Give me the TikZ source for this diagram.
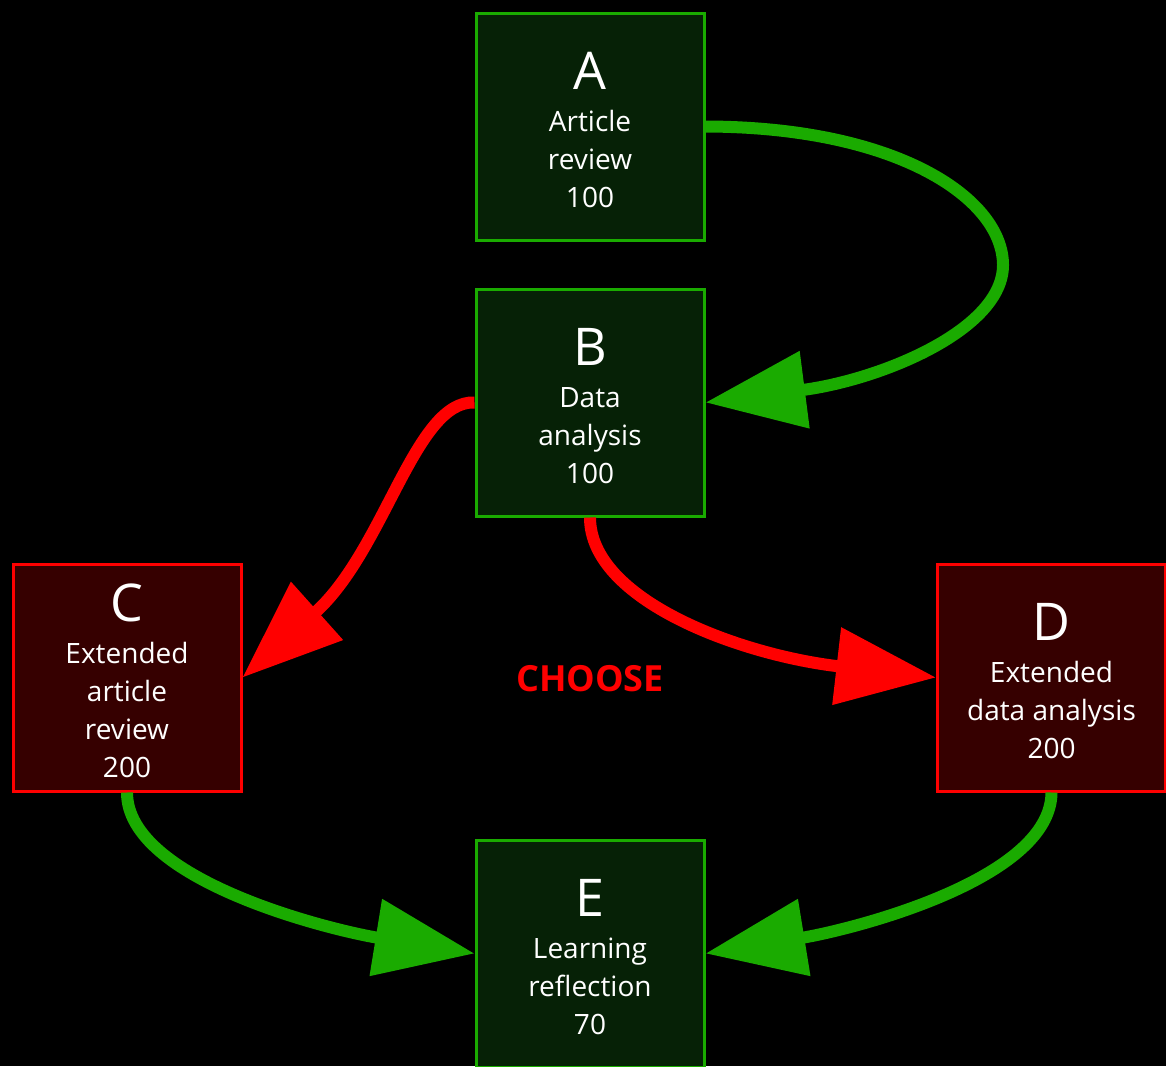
\documentclass[tikz,border=0pt]{standalone}
\usepackage{fontspec}
\setmainfont{Open Sans}
\usetikzlibrary{arrows.meta}
\definecolor{gline}{HTML}{1AAB00}
\definecolor{gfill}{HTML}{062106}
\definecolor{rline}{HTML}{FF0000}
\definecolor{rfill}{HTML}{360000}
\tikzset{
  box/.style={draw, line width=3pt, minimum width=228pt, minimum height=227pt, inner sep=0pt,
    text=white, align=center, font=\fontsize{28}{38}\selectfont},
  gbox/.style={box, draw=gline, fill=gfill},
  rbox/.style={box, draw=rline, fill=rfill},
  conn/.style={line width=12pt, -{Triangle[length=100pt,width=75pt]}},
  gconn/.style={conn, draw=gline},
  rconn/.style={conn, draw=rline},
}
\newcommand{\Ltr}[1]{{\fontsize{52}{38}\selectfont\rule{0pt}{45pt}#1}}
\begin{document}
\begin{tikzpicture}[x=1pt,y=-1pt]
\fill[black] (0,0) rectangle (1166,1066);
\useasboundingbox (0,0) rectangle (1166,1066);
\node[gbox] (A) at (590,126.5) {\Ltr{A}\\[4pt]Article\\review\\100};
\node[gbox] (B) at (590,402.5) {\Ltr{B}\\[4pt]Data\\analysis\\100};
\node[rbox] (C) at (127,677.5) {\Ltr{C}\\[4pt]Extended\\article\\review\\200};
\node[rbox] (D) at (1051.5,677.5) {\Ltr{D}\\[4pt]Extended\\data analysis\\200};
\node[gbox] (E) at (590,953.5) {\Ltr{E}\\[4pt]Learning\\reflection\\70};
\node[text=rline, font=\bfseries\fontsize{36}{38}\selectfont] (ch) at (590,679) {CHOOSE};
\draw[gconn] (A.east) .. controls (900,127) and (1003,200) .. (1003,265)
  .. controls (1003,330) and (880,380) .. (B.east);
\draw[rconn] (B.west) .. controls (415,400) and (385,550) .. (C.east);
\draw[rconn] (B.south) .. controls (590,600) and (740,655) .. (D.west);
\draw[gconn] (C.south) .. controls (127,880) and (330,930) .. (E.west);
\draw[gconn] (D.south) .. controls (1051,880) and (850,930) .. (E.east);
\end{tikzpicture}
\end{document}
